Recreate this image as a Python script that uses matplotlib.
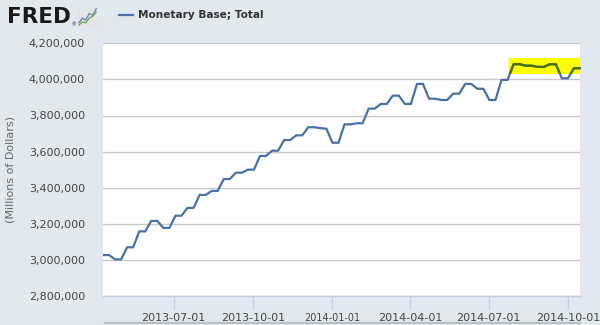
import matplotlib
matplotlib.use("Agg")
import matplotlib.pyplot as plt
import matplotlib.dates as mdates
from matplotlib.patches import Rectangle
from matplotlib.lines import Line2D
import pandas as pd

# Weekly monetary base, millions of dollars (weeks ending Wednesday)
start_date = "2013-04-10"
base_values = [
    3027000, 3027000, 3003000, 3003000, 3070000, 3070000, 3158000, 3158000,
    3216000, 3216000, 3177000, 3177000, 3245000, 3245000, 3288000, 3288000,
    3360000, 3360000, 3382000, 3382000, 3448000, 3448000, 3483000, 3483000,
    3500000, 3500000, 3576000, 3576000, 3605000, 3605000, 3664000, 3664000,
    3690000, 3690000, 3735000, 3735000, 3730000, 3727000, 3649000, 3649000,
    3751000, 3751000, 3757000, 3757000, 3838000, 3838000, 3864000, 3864000,
    3910000, 3910000, 3864000, 3864000, 3975000, 3975000, 3893000, 3893000,
    3886000, 3886000, 3921000, 3921000, 3975000, 3975000, 3948000, 3948000,
    3886000, 3886000, 3997000, 3997000, 4084000, 4084000, 4076000, 4076000,
    4069000, 4069000, 4084000, 4084000, 4006000, 4006000, 4062000, 4062000,
]
x_tick_labels = ["2013-07-01", "2013-10-01", "2014-01-01",
                 "2014-04-01", "2014-07-01", "2014-10-01"]
y_ticks = [2800000, 3000000, 3200000, 3400000, 3600000, 3800000, 4000000, 4200000]

# Highlighted recent range
highlight_start = "2014-07-25"
highlight_low, highlight_high = 4030000, 4121000

# Small logo sparkline
icon_blue = [1, 2, 1.6, 3, 2.6, 4]
icon_green = [0.5, 1.2, 1.0, 2.0, 2.4, 3.3]

dates = pd.date_range(start_date, periods=len(base_values), freq="7D")

BG = "#E1E8EF"
LINE = "#4572A7"
TEXT = "#444444"

fig = plt.figure(figsize=(6.0, 3.25), dpi=100, facecolor=BG)
W, H = 600.0, 325.0
left, right, top, bottom = 103, 580, 43.3, 296
ax = fig.add_axes([left / W, 1 - bottom / H, (right - left) / W, (bottom - top) / H])
ax.set_facecolor("white")

ax.plot(dates, base_values, color=LINE, lw=1.6, zorder=3, solid_joinstyle="round")

x0 = mdates.date2num(pd.Timestamp(highlight_start))
x1 = mdates.date2num(dates[-1]) + 1
rect = Rectangle((x0, highlight_low), x1 - x0, highlight_high - highlight_low,
                 facecolor="#FFFF00", edgecolor="none", zorder=2)
ax.add_patch(rect)
hl, = ax.plot(dates, base_values, color="#457200", lw=1.6, zorder=4,
              solid_joinstyle="round")
hl.set_clip_path(rect)

ax.set_xlim(dates[0], dates[-1])
ax.set_ylim(y_ticks[0], y_ticks[-1])

ax.set_yticks(y_ticks)
ax.set_yticklabels([f"{v:,}" for v in y_ticks])
ax.yaxis.grid(True, color="#C8C8C8", lw=1.0)
ax.set_axisbelow(True)
ax.tick_params(axis="y", length=0, pad=13, labelsize=8, labelcolor=TEXT)

ax.set_xticks([pd.Timestamp(s) for s in x_tick_labels])
ax.set_xticklabels(x_tick_labels)
ax.tick_params(axis="x", length=9, width=1, color="#C0D0E0", pad=3,
               labelsize=8, labelcolor=TEXT)
for lab in ax.get_xticklabels():
    if lab.get_text() == "2014-01-01":
        lab.set_fontsize(7)

for side in ("top", "right", "left"):
    ax.spines[side].set_visible(False)
ax.spines["bottom"].set_color("#C0D0E0")
ax.spines["bottom"].set_linewidth(1)

ax.set_ylabel("(Millions of Dollars)", fontsize=8, color="#666666")
ax.yaxis.set_label_coords(-(103 - 16) / (right - left), 0.5)

# Header: logo and legend
fig.text(7 / W, 1 - 17 / H, "FRED", fontsize=15.5, fontweight="bold", color="#1A1A1A",
         va="center", ha="left")
fig.text(71.5 / W, 1 - 25 / H, "®", fontsize=3.5, color="#1A1A1A", va="center", ha="left")
iax = fig.add_axes([78 / W, 1 - 26 / H, 19 / W, 18 / H])
iax.set_facecolor("#E4E4E4")
iax.plot(icon_blue, color="#5A84C0", lw=0.9)
iax.plot(icon_green, color="#6BAA3A", lw=0.9)
iax.set_xticks([])
iax.set_yticks([])
for s in iax.spines.values():
    s.set_visible(False)

fig.add_artist(Line2D([119 / W, 133 / W], [1 - 15 / H, 1 - 15 / H], color=LINE, lw=1.6))
fig.text(138 / W, 1 - 15 / H, "Monetary Base; Total", fontsize=7.6, fontweight="bold",
         color="#333333", va="center", ha="left")

# Lower frame edge
fig.add_artist(Line2D([105 / W, 580 / W], [1 - 323 / H, 1 - 323 / H], color="#B8C0C8", lw=1.5))

fig.savefig("out.png", dpi=100, facecolor=BG)
